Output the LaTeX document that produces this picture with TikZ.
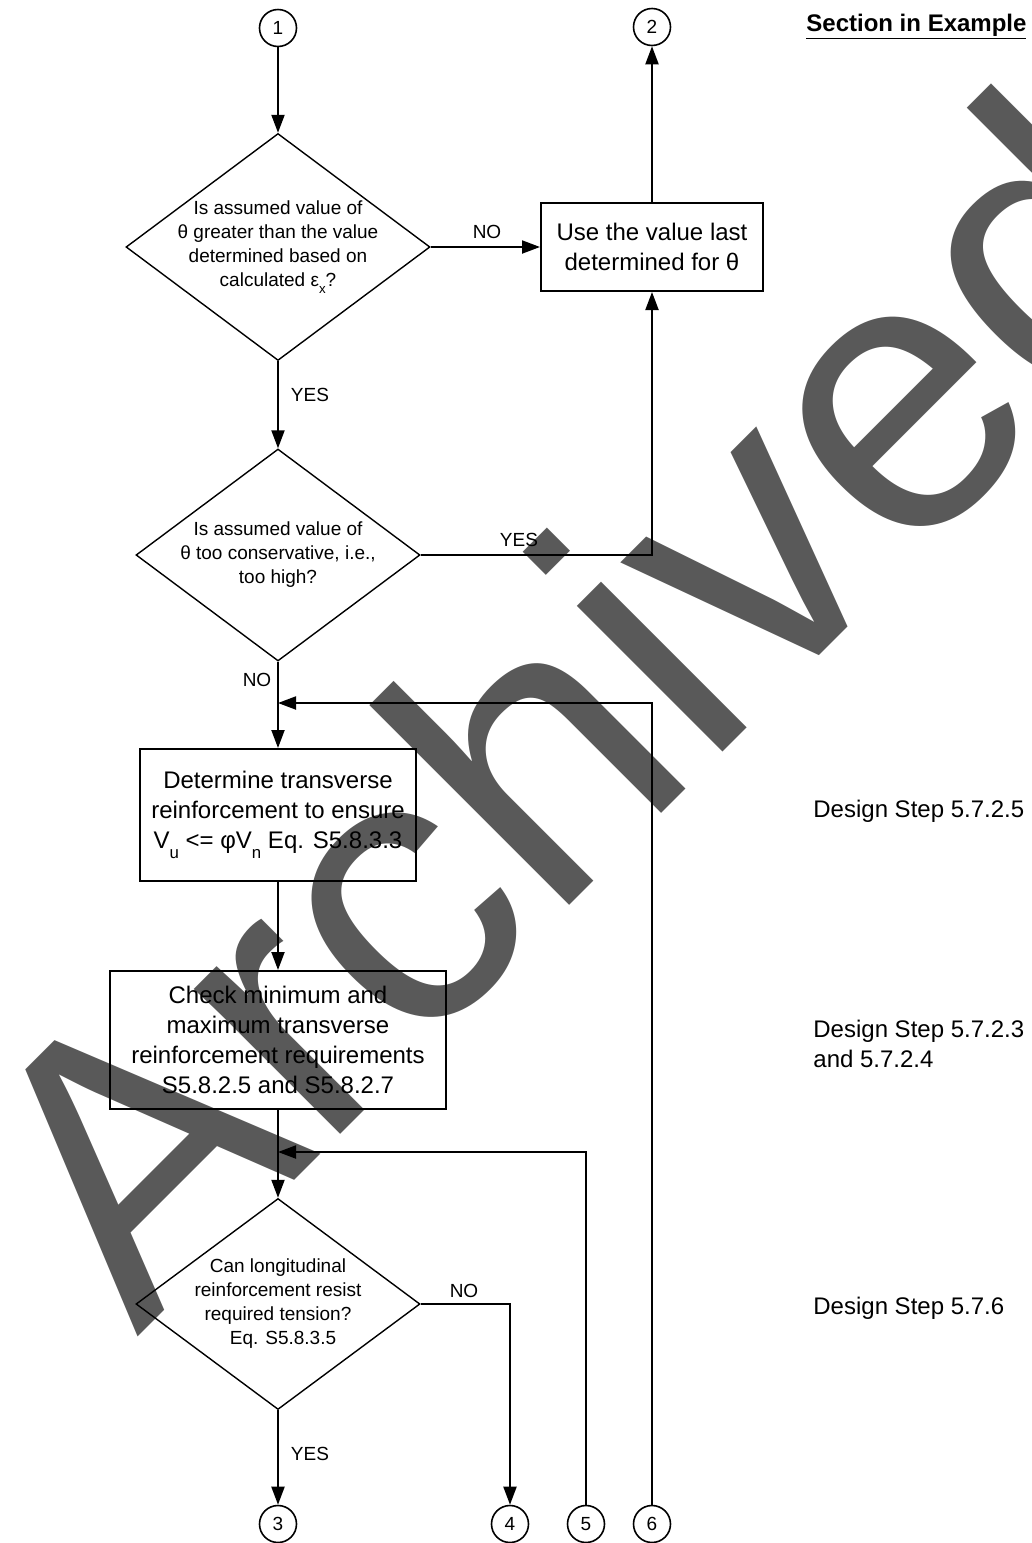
\documentclass[tikz,border=0pt]{standalone}
\usepackage{fontspec}
\setmainfont{Liberation Sans}
\usepackage{tikz}
\usetikzlibrary{arrows.meta,backgrounds,shapes.geometric}
\definecolor{stampgrey}{HTML}{595959}
\newcommand{\lowsub}[1]{\raisebox{-0.4em}{\scalebox{0.7}{#1}}}

\begin{document}
\begin{tikzpicture}[x=0.5pt,y=-0.5pt,
  flow/.style={line width=1pt,-{Triangle[length=9pt,width=6.5pt]}},
  decision/.style={diamond,draw,line width=0.7pt,inner sep=0pt},
  qtext/.style={align=center,inner sep=0pt,font=\fontsize{9.5}{12}\selectfont},
  process/.style={rectangle,draw,line width=1pt,align=center,inner sep=0pt,font=\fontsize{12}{15}\selectfont},
  connector/.style={circle,draw,line width=0.8pt,minimum size=18.5pt,inner sep=0pt,font=\fontsize{9.5}{12}\selectfont},
  answer/.style={inner sep=0pt,font=\fontsize{9.5}{12}\selectfont},
  steptext/.style={anchor=base west,align=left,inner sep=0pt,font=\fontsize{12}{15}\selectfont}]
\useasboundingbox (0,0) rectangle (1032,1543);

\begin{scope}[on background layer]
\node[anchor=base west,rotate=45,inner sep=0pt,text=stampgrey,font=\fontsize{195}{195}\selectfont] (stamp) at (137,1338) {Archived};
\end{scope}

\node[connector] (c1) at (278,28) {1};
\node[connector] (c2) at (652,27) {2};
\node[connector] (c3) at (278,1524) {3};
\node[connector] (c4) at (510,1524) {4};
\node[connector] (c5) at (586,1524) {5};
\node[connector] (c6) at (652,1524) {6};

\node[decision,minimum width=152pt,minimum height=113.5pt] (q1) at (278,247) {};
\node[qtext] (q1t) at (q1) {Is assumed value of\\θ greater than the value\\determined based on\\calculated ε\lowsub{x}?};
\node[process,minimum width=111pt,minimum height=44pt] (use) at (652,247) {Use the value last\\determined for θ};
\node[decision,minimum width=142pt,minimum height=106pt] (q2) at (278,555) {};
\node[qtext] (q2t) at (q2) {Is assumed value of\\θ too conservative, i.e.,\\too high?};
\node[process,minimum width=138pt,minimum height=66pt] (reinf) at (278,815) {Determine transverse\\reinforcement to ensure\\V\lowsub{u} <= φV\lowsub{n} Eq. S5.8.3.3};
\node[process,minimum width=168pt,minimum height=69pt] (limits) at (278,1040) {Check minimum and\\maximum transverse\\reinforcement requirements\\S5.8.2.5 and S5.8.2.7};
\node[decision,minimum width=142pt,minimum height=105.5pt] (q3) at (278,1304) {};
\node[qtext] (q3t) at (q3) {Can longitudinal\\reinforcement resist\\required tension?\\\hspace*{5pt}Eq. S5.8.3.5};

\coordinate (j1) at (278,703);
\coordinate (j2) at (278,1152);

\draw[flow] (c1) -- (q1);
\draw[flow] (q1) -- (use);
\draw[flow] (use) -- (c2);
\draw[flow] (q1) -- (q2);
\draw[flow] (q2.east) -| (use.south);
\draw[flow] (q2) -- (reinf);
\draw[flow] (c6.north) |- (j1);
\draw[flow] (reinf) -- (limits);
\draw[flow] (limits) -- (q3);
\draw[flow] (c5.north) |- (j2);
\draw[flow] (q3.east) -| (c4.north);
\draw[flow] (q3) -- (c3);

\node[answer] (no1) at (487,232) {NO};
\node[answer] (yes1) at (310,395) {YES};
\node[answer] (yes2) at (519,540) {YES};
\node[answer] (no2) at (257,680) {NO};
\node[answer] (no3) at (464,1291) {NO};
\node[answer] (yes3) at (310,1454) {YES};

\node[steptext] (hdr) at (806,31) {\textbf{\underline{Section in Example}}};
\node[steptext] (s1) at (813,817) {Design Step 5.7.2.5};
\node[steptext] (s2) at (813,1067) {Design Step 5.7.2.3\\and 5.7.2.4};
\node[steptext] (s3) at (813,1314) {Design Step 5.7.6};
\end{tikzpicture}
\end{document}
